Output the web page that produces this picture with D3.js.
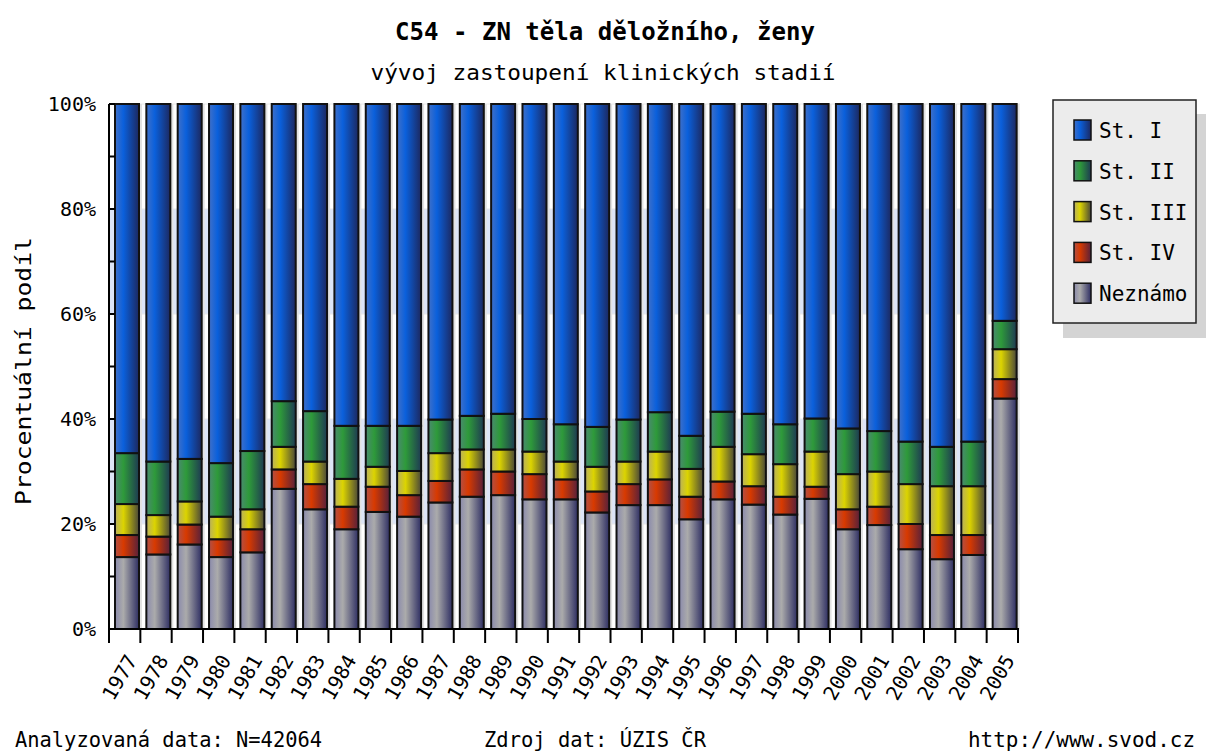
<!DOCTYPE html>
<html>
<head>
<meta charset="utf-8">
<script src="https://cdn.jsdelivr.net/npm/d3@7"></script>
<style>
  body { margin: 0; background: #fff; }
  text { font-family: "DejaVu Sans Mono", monospace; fill: #000; }
</style>
</head>
<body>
<div id="chart"></div>
<script>
// data (percent share of each stage per year)
const years = ["1977","1978","1979","1980","1981","1982","1983","1984","1985","1986","1987","1988","1989","1990","1991","1992","1993","1994","1995","1996","1997","1998","1999","2000","2001","2002","2003","2004","2005"];
const neznamo = [13.7,14.2,16.1,13.7,14.6,26.7,22.8,19.0,22.3,21.4,24.1,25.2,25.5,24.7,24.7,22.2,23.6,23.6,20.9,24.7,23.7,21.8,24.8,19.0,19.8,15.2,13.3,14.1,43.9];
const st4 = [4.2,3.4,3.8,3.4,4.4,3.7,4.8,4.3,4.8,4.1,4.1,5.2,4.5,4.8,3.8,4.0,4.0,4.9,4.3,3.4,3.5,3.4,2.3,3.8,3.5,4.8,4.6,3.8,3.7];
const st3 = [5.9,4.1,4.4,4.3,3.8,4.3,4.3,5.3,3.8,4.6,5.3,3.8,4.2,4.3,3.4,4.7,4.3,5.3,5.3,6.6,6.1,6.2,6.7,6.7,6.7,7.6,9.3,9.3,5.7];
const st2 = [9.7,10.2,8.1,10.2,11.1,8.7,9.6,10.1,7.8,8.6,6.4,6.4,6.8,6.2,7.1,7.6,8.0,7.5,6.3,6.7,7.7,7.6,6.3,8.7,7.7,8.1,7.5,8.5,5.4];
const st1 = [66.5,68.1,67.6,68.4,66.1,56.6,58.5,61.3,61.3,61.3,60.1,59.4,59.0,60.0,61.0,61.5,60.1,58.7,63.2,58.6,59.0,61.0,59.9,61.8,62.3,64.3,65.3,64.3,41.3];

const keys = ["Neznámo","St. IV","St. III","St. II","St. I"];   // bottom -> top
const legendKeys = ["St. I","St. II","St. III","St. IV","Neznámo"];
const yTicks = [0,20,40,60,80,100];

// gradient colours: left, middle, right
const colors = {
  "St. I":   ["#4070c8", "#0a60dc", "#1c2860"],
  "St. II":  ["#4a8a70", "#2e9a3a", "#1e3a52"],
  "St. III": ["#b8b060", "#dcd400", "#4a4838"],
  "St. IV":  ["#b05048", "#d83a00", "#58203a"],
  "Neznámo": ["#8a8aac", "#ababab", "#2e2e62"]
};

const rows = years.map((y, i) => ({
  year: y,
  "Neznámo": neznamo[i], "St. IV": st4[i], "St. III": st3[i], "St. II": st2[i], "St. I": st1[i]
}));

const width = 1206, height = 754;
const plot = {left: 109, right: 1018, top: 104, bottom: 629};

const svg = d3.select("#chart").append("svg")
  .attr("width", width)
  .attr("height", height);

svg.append("rect").attr("width", width).attr("height", height).attr("fill", "#fff");

const defs = svg.append("defs");
keys.forEach((k, i) => {
  const g = defs.append("linearGradient").attr("id", "grad" + i)
    .attr("x1", "0").attr("x2", "1").attr("y1", "0").attr("y2", "0");
  g.append("stop").attr("offset", "0%").attr("stop-color", colors[k][0]);
  g.append("stop").attr("offset", "35%").attr("stop-color", colors[k][1]);
  g.append("stop").attr("offset", "100%").attr("stop-color", colors[k][2]);
});

const x = d3.scaleBand()
  .domain(years)
  .range([plot.left, plot.right]);

const y = d3.scaleLinear()
  .domain([0, 100])
  .range([plot.bottom, plot.top]);

// background bands
[[20, 40], [60, 80]].forEach(b => {
  svg.append("rect")
    .attr("x", plot.left).attr("y", y(b[1]))
    .attr("width", plot.right - plot.left + 2).attr("height", y(b[0]) - y(b[1]))
    .attr("fill", "#dde5f7");
});
yTicks.forEach(t => {
  svg.append("line")
    .attr("x1", plot.left).attr("x2", plot.right + 2)
    .attr("y1", y(t)).attr("y2", y(t))
    .attr("stroke", "#e8e8e8");
});

const barOff = 6, barW = 24;

// bar shadows
svg.append("g").selectAll("rect")
  .data(rows)
  .enter().append("rect")
    .attr("x", d => x(d.data ? d.data.year : d.year) + barOff + 3)
    .attr("y", y(100))
    .attr("width", barW)
    .attr("height", y(0) - y(100))
    .attr("fill", "#e2e2e2");

const stackedData = d3.stack().keys(keys)(rows);

svg.append("g")
  .selectAll("g")
  .data(stackedData)
  .enter().append("g")
    .attr("fill", (d, i) => "url(#grad" + i + ")")
  .selectAll("rect")
  .data(d => d)
  .enter().append("rect")
    .attr("x", d => x(d.data.year) + barOff)
    .attr("y", d => y(d[1]))
    .attr("width", barW)
    .attr("height", d => y(d[0]) - y(d[1]))
    .attr("stroke", "#111")
    .attr("stroke-width", 2);

// y axis
svg.append("line")
  .attr("x1", plot.left).attr("x2", plot.left)
  .attr("y1", plot.top).attr("y2", plot.bottom)
  .attr("stroke", "#000").attr("stroke-width", 2);

d3.range(0, 101, 10).forEach(t => {
  svg.append("line")
    .attr("x1", plot.left).attr("x2", plot.left + 6)
    .attr("y1", y(t)).attr("y2", y(t))
    .attr("stroke", "#000").attr("stroke-width", 2);
});

svg.append("g").selectAll("text")
  .data(yTicks)
  .enter().append("text")
    .attr("x", plot.left - 13)
    .attr("y", d => y(d) + 7)
    .attr("text-anchor", "end")
    .style("font-size", "20px")
    .text(d => d + "%");

// x axis
svg.append("line")
  .attr("x1", plot.left).attr("x2", plot.right + 1)
  .attr("y1", plot.bottom).attr("y2", plot.bottom)
  .attr("stroke", "#000").attr("stroke-width", 2);

svg.append("g").selectAll("line")
  .data(years.concat(["end"]))
  .enter().append("line")
    .attr("x1", (d, i) => plot.left + i * x.step())
    .attr("x2", (d, i) => plot.left + i * x.step())
    .attr("y1", plot.bottom).attr("y2", plot.bottom + 14)
    .attr("stroke", "#000").attr("stroke-width", 2);

svg.append("g").selectAll("text")
  .data(years)
  .enter().append("text")
    .attr("text-anchor", "end")
    .attr("transform", d => "translate(" + (x(d) + x.bandwidth() / 2 + 13) + "," + 660 + ") rotate(-60)")
    .style("font-size", "20px")
    .text(d => d);

// titles
svg.append("text")
  .attr("x", 605).attr("y", 40)
  .attr("text-anchor", "middle")
  .attr("textLength", 420).attr("lengthAdjust", "spacingAndGlyphs")
  .style("font-size", "24px").style("font-weight", "bold")
  .text("C54 - ZN těla děložního, ženy");

svg.append("text")
  .attr("x", 603).attr("y", 80)
  .attr("text-anchor", "middle")
  .attr("textLength", 465).attr("lengthAdjust", "spacingAndGlyphs")
  .style("font-size", "21px")
  .text("vývoj zastoupení klinických stadií");

svg.append("text")
  .attr("transform", "translate(31,371) rotate(-90)")
  .attr("text-anchor", "middle")
  .attr("textLength", 268).attr("lengthAdjust", "spacingAndGlyphs")
  .style("font-size", "22px")
  .text("Procentuální podíl");

// footer
svg.append("text").attr("x", 15).attr("y", 747)
  .attr("textLength", 307).attr("lengthAdjust", "spacingAndGlyphs")
  .style("font-size", "21px").text("Analyzovaná data: N=42064");
svg.append("text").attr("x", 484).attr("y", 747)
  .attr("textLength", 222).attr("lengthAdjust", "spacingAndGlyphs")
  .style("font-size", "21px").text("Zdroj dat: ÚZIS ČR");
svg.append("text").attr("x", 968).attr("y", 747)
  .attr("textLength", 227).attr("lengthAdjust", "spacingAndGlyphs")
  .style("font-size", "21px").text("http://www.svod.cz");

// legend
const lg = svg.append("g");
lg.append("rect")
  .attr("x", 1063).attr("y", 114).attr("width", 144).attr("height", 224)
  .attr("fill", "#d4d4d4");
lg.append("rect")
  .attr("x", 1053).attr("y", 100).attr("width", 143).attr("height", 223)
  .attr("fill", "#ececec").attr("stroke", "#222").attr("stroke-width", 1.5);

legendKeys.forEach((k, i) => {
  const cy = 130 + i * 40.8;
  lg.append("rect")
    .attr("x", 1074).attr("y", cy - 10).attr("width", 17).attr("height", 20)
    .attr("fill", "url(#grad" + keys.indexOf(k) + ")")
    .attr("stroke", "#111").attr("stroke-width", 1.5);
  lg.append("text")
    .attr("x", 1099).attr("y", cy + 8)
    .style("font-size", "21px")
    .text(k);
});
</script>
</body>
</html>
